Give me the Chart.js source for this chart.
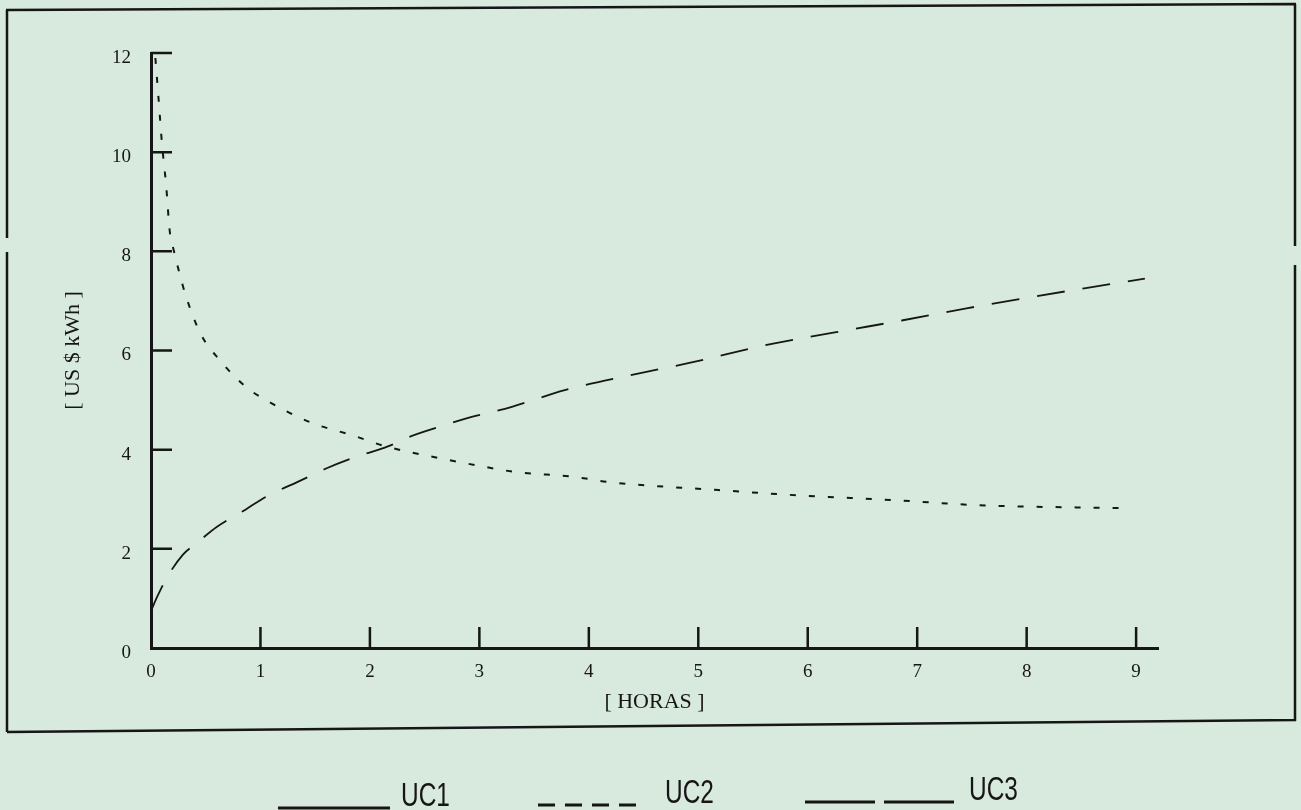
<!DOCTYPE html>
<html>
<head>
<meta charset="utf-8">
<script src="https://cdn.jsdelivr.net/npm/chart.js@4.4.1/dist/chart.umd.min.js"></script>
<style>
  html, body { margin: 0; padding: 0; background: #d8e9dd; }
  #wrap { width: 1301px; height: 810px; }
</style>
</head>
<body>
<div id="wrap"><canvas id="c" width="1301" height="810"></canvas></div>
<script>
// ---- data ----
const seriesNames = ['UC1', 'UC2', 'UC3'];
const xTickValues = [0, 1, 2, 3, 4, 5, 6, 7, 8, 9];
const yTickValues = [0, 2, 4, 6, 8, 10, 12];
const xTitle = '[ HORAS ]';
const yTitle = '[ US $ kWh ]';

// UC1 (solid) – not visible in the plot, only in the legend
const uc1Hours = [];
const uc1Values = [];

// UC2 (short dashes) – decreasing curve
const uc2Hours  = [0.04, 0.07, 0.10, 0.14, 0.17, 0.21, 0.26, 0.31, 0.45, 0.63, 0.87, 1.05, 1.47, 1.84, 2.14, 2.63, 2.96, 3.33, 3.87, 4.17, 5.15, 5.90, 6.80, 7.56, 8.90];
const uc2Values = [11.9, 11.05, 10.18, 9.29, 8.43, 8.0, 7.56, 7.16, 6.35, 5.8, 5.26, 5.0, 4.54, 4.29, 4.07, 3.83, 3.69, 3.55, 3.45, 3.35, 3.19, 3.08, 2.98, 2.88, 2.82];

// UC3 (long dashes) – increasing curve
const uc3Hours  = [0.0, 0.06, 0.14, 0.29, 0.42, 0.60, 0.87, 1.05, 1.35, 1.60, 1.84, 2.17, 2.35, 2.69, 2.93, 3.29, 3.78, 4.38, 4.96, 5.60, 6.26, 6.87, 7.45, 8.54, 9.08];
const uc3Values = [0.75, 1.05, 1.4, 1.88, 2.12, 2.44, 2.8, 3.05, 3.36, 3.62, 3.83, 4.07, 4.25, 4.5, 4.66, 4.86, 5.2, 5.5, 5.77, 6.1, 6.37, 6.61, 6.85, 7.26, 7.45];

const toPoints = (xs, ys) => xs.map((x, i) => ({ x: x, y: ys[i] }));

const INK = '#161616';

// ---- plugins ----
const paperPlugin = {
  id: 'paper',
  beforeDraw(chart) {
    const ctx = chart.ctx;
    ctx.save();
    ctx.fillStyle = '#d8e9dd';
    ctx.fillRect(0, 0, chart.width, chart.height);
    // outer frame of the figure
    ctx.strokeStyle = INK;
    ctx.lineWidth = 2.5;
    ctx.beginPath();
    ctx.moveTo(6, 10); ctx.lineTo(1296, 4);          // top
    ctx.moveTo(1295, 4); ctx.lineTo(1295, 246);      // right upper
    ctx.moveTo(1295, 265); ctx.lineTo(1295, 721);    // right lower
    ctx.moveTo(7, 732); ctx.lineTo(1296, 720);       // bottom
    ctx.moveTo(7, 10); ctx.lineTo(7, 238);           // left upper
    ctx.moveTo(7, 252); ctx.lineTo(7, 732);          // left lower
    ctx.stroke();
    ctx.restore();
  }
};

const innerTicksPlugin = {
  id: 'innerTicks',
  afterDraw(chart) {
    const { ctx, chartArea, scales } = chart;
    const xs = scales.x, ys = scales.y;
    ctx.save();
    ctx.strokeStyle = INK;
    ctx.lineWidth = 2.5;
    ctx.beginPath();
    ys.ticks.forEach(t => {
      if (t.value === 0) return;
      const py = ys.getPixelForValue(t.value);
      ctx.moveTo(chartArea.left, py);
      ctx.lineTo(chartArea.left + 21, py);
    });
    xs.ticks.forEach(t => {
      if (t.value === 0) return;
      const px = xs.getPixelForValue(t.value);
      ctx.moveTo(px, chartArea.bottom);
      ctx.lineTo(px, chartArea.bottom - 21);
    });
    ctx.stroke();
    ctx.restore();
  }
};

const bottomLegendPlugin = {
  id: 'bottomLegend',
  afterDraw(chart) {
    const ctx = chart.ctx;
    const slots = [
      { x0: 278, x1: 390, ly: 808, tx: 401, ty: 806 },
      { x0: 538, x1: 636, ly: 805, tx: 665, ty: 803 },
      { x0: 805, x1: 955, ly: 802, tx: 969, ty: 800 }
    ];
    const dashes = [[], [17, 10], [70, 9]];
    chart.data.datasets.forEach((ds, i) => {
      const s = slots[i];
      ctx.save();
      ctx.strokeStyle = INK;
      ctx.lineWidth = 3;
      ctx.setLineDash(dashes[i]);
      ctx.beginPath();
      ctx.moveTo(s.x0, s.ly);
      ctx.lineTo(s.x1, s.ly);
      ctx.stroke();
      ctx.setLineDash([]);
      ctx.fillStyle = INK;
      ctx.font = '33px "Liberation Sans", Arial, sans-serif';
      ctx.textBaseline = 'alphabetic';
      ctx.translate(s.tx, s.ty);
      ctx.scale(0.74, 1);
      ctx.fillText(ds.label, 0, 0);
      ctx.restore();
    });
  }
};

const chart = new Chart(document.getElementById('c'), {
  type: 'line',
  data: {
    datasets: [
      { label: seriesNames[0], data: toPoints(uc1Hours, uc1Values), borderColor: INK, borderWidth: 2 },
      { label: seriesNames[1], data: toPoints(uc2Hours, uc2Values), borderColor: INK, borderWidth: 2, borderDash: [6, 13] },
      { label: seriesNames[2], data: toPoints(uc3Hours, uc3Values), borderColor: INK, borderWidth: 1.8, borderDash: [28, 18] }
    ]
  },
  options: {
    responsive: false,
    animation: false,
    devicePixelRatio: 1,
    layout: { padding: { top: 53, right: 143, bottom: 0, left: 0 } },
    elements: {
      point: { radius: 0 },
      line: { cubicInterpolationMode: 'monotone', fill: false }
    },
    plugins: {
      legend: { display: false },
      tooltip: { enabled: false }
    },
    scales: {
      x: {
        type: 'linear',
        min: 0,
        max: 9.2,
        afterBuildTicks: s => { s.ticks = xTickValues.map(v => ({ value: v })); },
        afterFit: s => { s.height = 162; },
        grid: { display: false, drawTicks: false },
        border: { display: true, color: INK, width: 3 },
        ticks: {
          padding: 13,
          color: INK,
          font: { family: '"Liberation Serif", "Times New Roman", serif', size: 19 },
          maxRotation: 0
        },
        title: {
          display: true,
          text: xTitle,
          color: INK,
          font: { family: '"Liberation Serif", "Times New Roman", serif', size: 22 },
          padding: { top: 0, bottom: 95 }
        }
      },
      y: {
        type: 'linear',
        min: 0,
        max: 12,
        afterBuildTicks: s => { s.ticks = yTickValues.map(v => ({ value: v })); },
        afterFit: s => { s.width = 151; },
        grid: { display: false, drawTicks: false },
        border: { display: true, color: INK, width: 3 },
        ticks: {
          padding: 20,
          labelOffset: 5,
          color: INK,
          font: { family: '"Liberation Serif", "Times New Roman", serif', size: 19 }
        },
        title: {
          display: true,
          text: yTitle,
          color: INK,
          font: { family: '"Liberation Serif", "Times New Roman", serif', size: 22 },
          padding: { top: 60, bottom: 0 }
        }
      }
    }
  },
  plugins: [paperPlugin, innerTicksPlugin, bottomLegendPlugin]
});
</script>
</body>
</html>
